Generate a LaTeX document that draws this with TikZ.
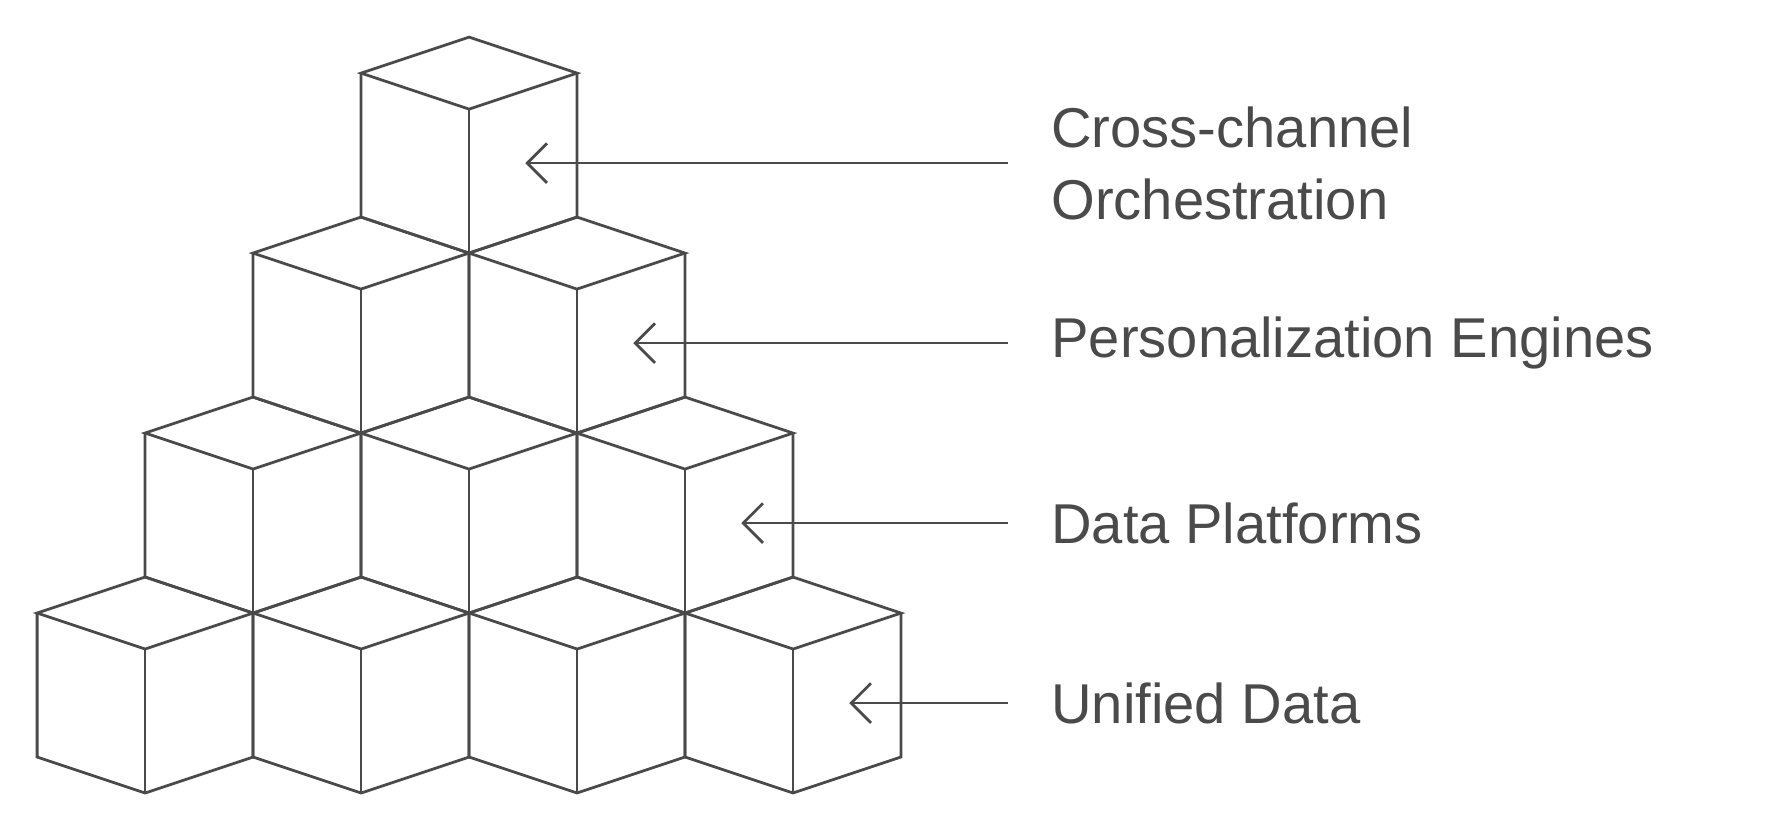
\documentclass[tikz,border=0pt]{standalone}
\usepackage{fontspec}
\setmainfont{Liberation Sans}
\usetikzlibrary{arrows.meta,positioning}
\definecolor{ink}{HTML}{4A4A4A}

\newcommand{\drawcube}[2]{%
  \draw[edge] (#1,-#2) -- ++(0.96,-0.32) -- ++(-0.96,-0.32) -- ++(-0.96,0.32) -- cycle;
  \draw[edge] (#1-0.96,-#2-0.32) -- ++(0,-1.28) -- ++(0.96,-0.32) -- ++(0.96,0.32) -- ++(0,1.28);
  \draw[edge] (#1,-#2-0.64) -- ++(0,-1.28);
}

\begin{document}
\begin{tikzpicture}[
    edge/.style={draw=ink, line width=0.7pt, line join=miter},
    arrow/.style={draw=ink, line width=0.7pt, -{Straight Barb[length=5pt,width=10pt]}},
    label/.style={font=\fontsize{14.2}{18.2}\selectfont, text=ink, anchor=west, align=left, inner sep=0pt}
]
\useasboundingbox (0,0) rectangle (15.70,-7.39);

% Cubes, back to front
\drawcube{4.17}{0.33}
\foreach \cx in {3.21,5.13} {\drawcube{\cx}{1.93}}
\foreach \cx in {2.25,4.17,6.09} {\drawcube{\cx}{3.53}}
\foreach \cx in {1.29,3.21,5.13,7.05} {\drawcube{\cx}{5.13}}

% Labels
\node[label] (orch) at (9.34,-1.45) {Cross-channel\\Orchestration};
\node[label] (pers) at (9.34,-3.05) {Personalization Engines};
\node[label] (plat) at (9.34,-4.65) {Data Platforms};
\node[label] (unif) at (9.34,-6.25) {Unified Data};

% Arrows
\coordinate (orchtip) at (4.67,-1.45);
\coordinate (perstip) at (5.63,-3.05);
\coordinate (plattip) at (6.59,-4.65);
\coordinate (uniftip) at (7.55,-6.25);
\draw[arrow] ([xshift=-0.38cm]orch.west) -- (orchtip);
\draw[arrow] ([xshift=-0.38cm]pers.west) -- (perstip);
\draw[arrow] ([xshift=-0.38cm]plat.west) -- (plattip);
\draw[arrow] ([xshift=-0.38cm]unif.west) -- (uniftip);

\end{tikzpicture}
\end{document}
